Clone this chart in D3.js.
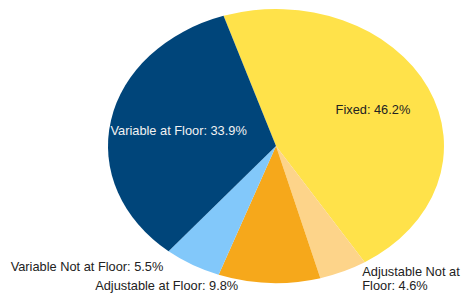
<!DOCTYPE html>
<html>
<head>
<meta charset="utf-8">
<script src="https://cdn.jsdelivr.net/npm/d3@7"></script>
<style>
  body { margin: 0; background: #fff; }
  text { font-family: "Liberation Sans", Arial, sans-serif; font-size: 12.8px; }
</style>
</head>
<body>
<div class="container"></div>
<script>
// Data
const categories = ["Fixed", "Adjustable Not at Floor", "Adjustable at Floor", "Variable Not at Floor", "Variable at Floor"];
const shares = [46.2, 4.6, 9.8, 5.5, 33.9];
const labelLines = [
  ["Fixed: 46.2%"],
  ["Adjustable Not at", "Floor: 4.6%"],
  ["Adjustable at Floor: 9.8%"],
  ["Variable Not at Floor: 5.5%"],
  ["Variable at Floor: 33.9%"]
];

const colors = ["#ffe24a", "#fdd48a", "#f6a81b", "#82c8fa", "#00457a"];

const width = 461;
const height = 300;
const cx = 276, cy = 146;
const rx = 168, ry = 137;

// label placement: inside (radius fraction) or outside (offset from rim point)
const labelLayout = [
  { inside: true, k: 0.637, color: "#222" },
  { inside: false, dx: 19, dy: 4, anchor: "start", color: "#222" },
  { inside: false, dx: -31, dy: 7, anchor: "end", color: "#222" },
  { inside: false, dx: -29, dy: 6, anchor: "end", color: "#222" },
  { inside: true, k: 0.59, color: "#f2f2f2" }
];

const svg = d3.select(".container").append("svg")
    .attr("width", width)
    .attr("height", height);

const pie = d3.pie()
    .sort(null)
    .value(d => d)
    .startAngle(-18.2 * Math.PI / 180)
    .endAngle((360 - 18.2) * Math.PI / 180);

const arcs = pie(shares);

const arc = d3.arc().innerRadius(0).outerRadius(rx);

// Draw the pie squashed into an ellipse
svg.append("g")
    .attr("transform", `translate(${cx},${cy}) scale(1,${ry / rx})`)
  .selectAll("path")
  .data(arcs)
  .enter().append("path")
    .attr("d", arc)
    .attr("fill", (d, i) => colors[i]);

function rimPoint(a, k) {
  return [cx + rx * k * Math.sin(a), cy - ry * k * Math.cos(a)];
}

const labels = svg.append("g");

arcs.forEach(function(d, i) {
  const mid = (d.startAngle + d.endAngle) / 2;
  const L = labelLayout[i];
  let x, y, anchor;
  if (L.inside) {
    const p = rimPoint(mid, L.k);
    x = p[0]; y = p[1] + 4.5; anchor = "middle";
  } else {
    const p = rimPoint(mid, 1);
    x = p[0] + L.dx; y = p[1] + L.dy; anchor = L.anchor;
  }
  const t = labels.append("text")
      .attr("x", x)
      .attr("y", y)
      .attr("fill", L.color)
      .attr("text-anchor", anchor);
  labelLines[i].forEach(function(line, j) {
    t.append("tspan")
      .attr("x", x)
      .attr("dy", j ? 14 : 0)
      .text(line);
  });
});
</script>
</body>
</html>
